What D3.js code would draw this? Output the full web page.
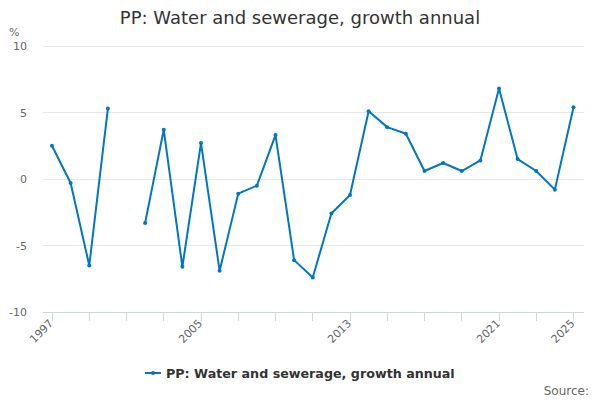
<!DOCTYPE html>
<html>
<head>
<meta charset="utf-8">
<script src="https://cdn.jsdelivr.net/npm/d3@7"></script>
<style>
body{margin:0;background:#fff;}
svg{font-family:"DejaVu Sans",sans-serif;}
</style>
</head>
<body>
<svg id="chart" width="600" height="400"></svg>
<script>
const title = "PP: Water and sewerage, growth annual";
const seriesName = "PP: Water and sewerage, growth annual";
const years = [1997,1998,1999,2000,2001,2002,2003,2004,2005,2006,2007,2008,2009,2010,2011,2012,2013,2014,2015,2016,2017,2018,2019,2020,2021,2022,2023,2024,2025];
const values = [2.5,-0.3,-6.5,5.3,null,-3.3,3.7,-6.6,2.7,-6.9,-1.1,-0.5,3.3,-6.1,-7.4,-2.6,-1.2,5.1,3.9,3.4,0.6,1.2,0.6,1.4,6.8,1.5,0.6,-0.8,5.4];
const yTicks = [-10,-5,0,5,10];
const xTickYears = [1997,1999,2001,2003,2005,2007,2009,2011,2013,2015,2017,2019,2021,2023,2025];
const xLabelYears = [1997,2005,2013,2021,2025];

const svg = d3.select("#chart");
const pLeft = 43, pRight = 584, pTop = 46, pBottom = 312;
const x = d3.scaleLinear().domain([1997,2025]).range([52,573.5]);
const y = d3.scaleLinear().domain([-10,10]).range([pBottom, pTop]);
const color = "#0077c2";

// title
svg.append("text").attr("x",300).attr("y",24).attr("text-anchor","middle")
  .attr("font-size",18).attr("fill","#333").text(title);

// gridlines
svg.append("g").selectAll("line").data(yTicks.filter(d=>d!==-10)).join("line")
  .attr("x1",pLeft).attr("x2",pRight).attr("y1",d=>y(d)).attr("y2",d=>y(d))
  .attr("stroke","#e6e6e6").attr("stroke-width",1).attr("shape-rendering","crispEdges");

// y axis labels
svg.append("g").selectAll("text").data(yTicks).join("text")
  .attr("x",27).attr("y",d=>y(d)+4).attr("text-anchor","end")
  .attr("font-size",11).attr("fill","#666").text(d=>d);
svg.append("text").attr("x",9).attr("y",36).attr("font-size",11).attr("fill","#666").text("%");

// x axis line
svg.append("line").attr("x1",pLeft).attr("x2",pRight).attr("y1",pBottom).attr("y2",pBottom)
  .attr("stroke","#ccd6eb").attr("stroke-width",1).attr("shape-rendering","crispEdges");
svg.append("g").selectAll("line").data(xTickYears).join("line")
  .attr("x1",d=>x(d)).attr("x2",d=>x(d)).attr("y1",pBottom).attr("y2",pBottom+9)
  .attr("stroke","#ccd6eb").attr("stroke-width",1).attr("shape-rendering","crispEdges");
svg.append("g").selectAll("text").data(xLabelYears).join("text")
  .attr("transform",d=>`translate(${x(d)+2},${pBottom+12}) rotate(-45)`)
  .attr("text-anchor","end").attr("font-size",11).attr("fill","#666").text(d=>d);

// line
const data = years.map((yr,i)=>({yr, v:values[i]}));
const line = d3.line().defined(d=>d.v!==null).x(d=>x(d.yr)).y(d=>y(d.v));
svg.append("path").datum(data).attr("d",line).attr("fill","none")
  .attr("stroke",color).attr("stroke-width",2).attr("stroke-linejoin","round");
svg.append("g").selectAll("circle").data(data.filter(d=>d.v!==null)).join("circle")
  .attr("cx",d=>x(d.yr)).attr("cy",d=>y(d.v)).attr("r",2).attr("fill",color);

// legend
const ly = 373;
svg.append("line").attr("x1",145).attr("x2",161).attr("y1",ly).attr("y2",ly)
  .attr("stroke",color).attr("stroke-width",2);
svg.append("circle").attr("cx",153).attr("cy",ly).attr("r",2).attr("fill",color);
svg.append("text").attr("x",166).attr("y",ly+5).attr("font-size",12.7).attr("font-weight","bold")
  .attr("fill","#333").text(seriesName);

// source
svg.append("text").attr("x",589).attr("y",395).attr("text-anchor","end")
  .attr("font-size",12).attr("fill","#666").text("Source:");
</script>
</body>
</html>
